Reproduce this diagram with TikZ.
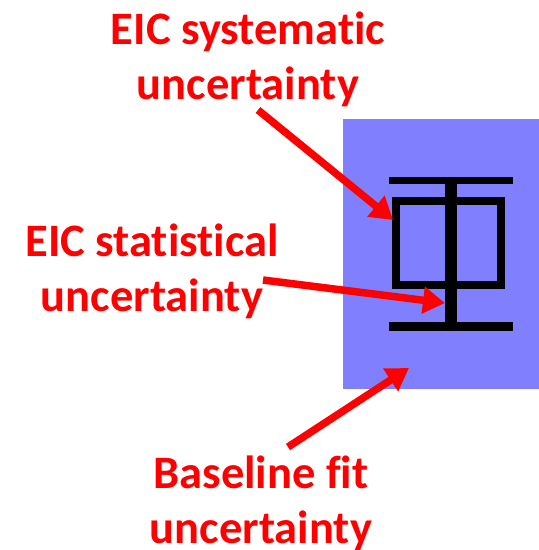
\documentclass[tikz,border=0pt]{standalone}
\usepackage{fontspec}
\setmainfont{Carlito}[Ligatures=NoCommon]
\usepackage{tikz}
\usetikzlibrary{arrows.meta}
\usepackage{xcolor}
\definecolor{bandblue}{RGB}{128,128,255}
\definecolor{labelred}{RGB}{255,0,0}

\begin{document}
\begin{tikzpicture}[x=1pt, y=1pt, label/.style={text=labelred, font=\bfseries\fontsize{46.5}{55}\selectfont, align=center, inner sep=0pt}, pointer/.style={draw=labelred, line width=7.5pt, -{Triangle[length=22pt, width=26pt]}}, bar/.style={draw=black, line width=8pt}]
\useasboundingbox (0,0) rectangle (539,550);
\fill[bandblue] (343,161) rectangle (539,431);
% error bar
\draw[bar, line width=7pt] (389,369.5) -- (513,369.5);
\draw[bar] (395.5,348.5) rectangle (500.5,265);
\draw[bar, line width=12pt] (451,370) -- (451,224);
\draw[bar, line width=9pt] (389,223.5) -- (513,223.5);
\node[label] (sys)  at (248,490.5) {EIC systematic\\uncertainty};
\node[label] (stat) at (152,278.5) {EIC statistical\\uncertainty};
\node[label] (base) at (261,47)    {Baseline fit\\uncertainty};
\coordinate (systail) at (258,440);
\coordinate (systip) at (393,330);
\coordinate (stattail) at (263,270);
\coordinate (stattip) at (445,247);
\coordinate (basetail) at (288,103);
\coordinate (basetip) at (409,182);
\draw[pointer] (systail) -- (systip);
\draw[pointer] (stattail) -- (stattip);
\draw[pointer] (basetail) -- (basetip);
\end{tikzpicture}
\end{document}
